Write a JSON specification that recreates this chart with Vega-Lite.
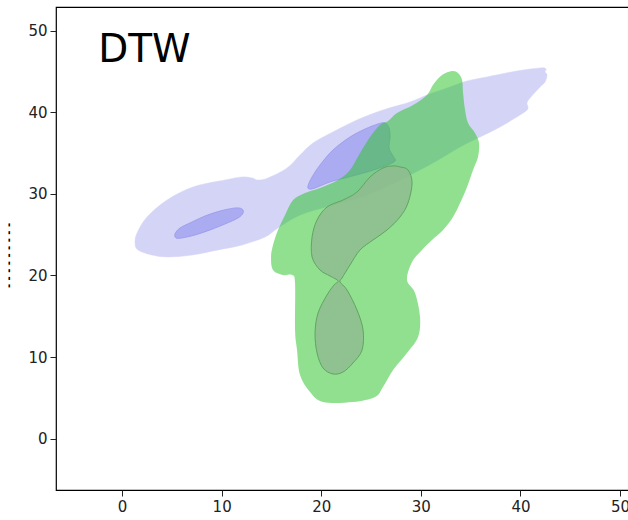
{
  "$schema": "https://vega.github.io/schema/vega-lite/v6.json",
  "width": 573,
  "height": 483,
  "autosize": {"type": "none"},
  "padding": {"left": 56, "top": 7, "right": 0, "bottom": 30},
  "background": "white",
  "config": {
    "view": {"stroke": "#000", "strokeWidth": 1.2},
    "axis": {
      "grid": false,
      "domain": false,
      "tickColor": "#222",
      "tickSize": 6,
      "tickWidth": 1,
      "labelColor": "#222",
      "labelFont": "DejaVu Sans",
      "labelFontSize": 15,
      "titleFont": "DejaVu Sans"
    }
  },
  "datasets": {
    "contours": [
      {"shape": "bo", "i": 1, "x": 1.31, "y": 23.98},
      {"shape": "bo", "i": 2, "x": 1.61, "y": 23.13},
      {"shape": "bo", "i": 3, "x": 3.01, "y": 22.51},
      {"shape": "bo", "i": 4, "x": 4.62, "y": 22.27},
      {"shape": "bo", "i": 5, "x": 7.03, "y": 22.51},
      {"shape": "bo", "i": 6, "x": 9.64, "y": 23.13},
      {"shape": "bo", "i": 7, "x": 12.05, "y": 23.74},
      {"shape": "bo", "i": 8, "x": 14.36, "y": 24.72},
      {"shape": "bo", "i": 9, "x": 15.66, "y": 25.82},
      {"shape": "bo", "i": 10, "x": 17.87, "y": 27.41},
      {"shape": "bo", "i": 11, "x": 21.18, "y": 28.64},
      {"shape": "bo", "i": 12, "x": 24.6, "y": 29.87},
      {"shape": "bo", "i": 13, "x": 27.91, "y": 31.7},
      {"shape": "bo", "i": 14, "x": 31.22, "y": 33.79},
      {"shape": "bo", "i": 15, "x": 33.94, "y": 35.75},
      {"shape": "bo", "i": 16, "x": 35.94, "y": 36.97},
      {"shape": "bo", "i": 17, "x": 37.95, "y": 38.2},
      {"shape": "bo", "i": 18, "x": 39.96, "y": 39.67},
      {"shape": "bo", "i": 19, "x": 40.66, "y": 40.28},
      {"shape": "bo", "i": 20, "x": 40.76, "y": 40.65},
      {"shape": "bo", "i": 21, "x": 40.66, "y": 41.14},
      {"shape": "bo", "i": 22, "x": 40.96, "y": 41.75},
      {"shape": "bo", "i": 23, "x": 41.97, "y": 43.1},
      {"shape": "bo", "i": 24, "x": 42.47, "y": 43.71},
      {"shape": "bo", "i": 25, "x": 42.67, "y": 44.57},
      {"shape": "bo", "i": 26, "x": 42.47, "y": 44.94},
      {"shape": "bo", "i": 27, "x": 42.57, "y": 45.31},
      {"shape": "bo", "i": 28, "x": 41.97, "y": 45.43},
      {"shape": "bo", "i": 29, "x": 39.66, "y": 45.06},
      {"shape": "bo", "i": 30, "x": 36.65, "y": 44.33},
      {"shape": "bo", "i": 31, "x": 34.64, "y": 43.84},
      {"shape": "bo", "i": 32, "x": 32.93, "y": 43.1},
      {"shape": "bo", "i": 33, "x": 30.62, "y": 42.12},
      {"shape": "bo", "i": 34, "x": 28.92, "y": 41.26},
      {"shape": "bo", "i": 35, "x": 26.2, "y": 40.28},
      {"shape": "bo", "i": 36, "x": 23.59, "y": 39.06},
      {"shape": "bo", "i": 37, "x": 21.18, "y": 37.59},
      {"shape": "bo", "i": 38, "x": 19.18, "y": 36.24},
      {"shape": "bo", "i": 39, "x": 17.87, "y": 34.77},
      {"shape": "bo", "i": 40, "x": 16.57, "y": 33.17},
      {"shape": "bo", "i": 41, "x": 14.66, "y": 31.95},
      {"shape": "bo", "i": 42, "x": 13.65, "y": 31.7},
      {"shape": "bo", "i": 43, "x": 13.05, "y": 31.95},
      {"shape": "bo", "i": 44, "x": 12.05, "y": 32.07},
      {"shape": "bo", "i": 45, "x": 10.34, "y": 31.7},
      {"shape": "bo", "i": 46, "x": 7.13, "y": 30.85},
      {"shape": "bo", "i": 47, "x": 4.52, "y": 29.25},
      {"shape": "bo", "i": 48, "x": 2.51, "y": 27.17},
      {"shape": "bo", "i": 49, "x": 1.51, "y": 25.21},

      {"shape": "bi1", "i": 1, "x": 5.32, "y": 25.09},
      {"shape": "bi1", "i": 2, "x": 5.82, "y": 25.82},
      {"shape": "bi1", "i": 3, "x": 7.03, "y": 26.56},
      {"shape": "bi1", "i": 4, "x": 8.33, "y": 27.29},
      {"shape": "bi1", "i": 5, "x": 9.84, "y": 27.9},
      {"shape": "bi1", "i": 6, "x": 11.35, "y": 28.27},
      {"shape": "bi1", "i": 7, "x": 12.05, "y": 28.15},
      {"shape": "bi1", "i": 8, "x": 12.15, "y": 27.66},
      {"shape": "bi1", "i": 9, "x": 11.65, "y": 27.05},
      {"shape": "bi1", "i": 10, "x": 10.34, "y": 26.31},
      {"shape": "bi1", "i": 11, "x": 8.84, "y": 25.58},
      {"shape": "bi1", "i": 12, "x": 7.33, "y": 24.96},
      {"shape": "bi1", "i": 13, "x": 6.02, "y": 24.6},
      {"shape": "bi1", "i": 14, "x": 5.42, "y": 24.6},

      {"shape": "bi2", "i": 1, "x": 18.67, "y": 30.97},
      {"shape": "bi2", "i": 2, "x": 19.08, "y": 32.07},
      {"shape": "bi2", "i": 3, "x": 19.88, "y": 33.54},
      {"shape": "bi2", "i": 4, "x": 21.18, "y": 35.38},
      {"shape": "bi2", "i": 5, "x": 22.89, "y": 36.97},
      {"shape": "bi2", "i": 6, "x": 24.4, "y": 37.95},
      {"shape": "bi2", "i": 7, "x": 25.7, "y": 38.57},
      {"shape": "bi2", "i": 8, "x": 26.41, "y": 38.69},
      {"shape": "bi2", "i": 9, "x": 26.81, "y": 38.08},
      {"shape": "bi2", "i": 10, "x": 26.91, "y": 36.97},
      {"shape": "bi2", "i": 11, "x": 26.81, "y": 35.63},
      {"shape": "bi2", "i": 12, "x": 27.21, "y": 34.64},
      {"shape": "bi2", "i": 13, "x": 27.41, "y": 34.03},
      {"shape": "bi2", "i": 14, "x": 26.41, "y": 33.42},
      {"shape": "bi2", "i": 15, "x": 24.6, "y": 32.68},
      {"shape": "bi2", "i": 16, "x": 22.39, "y": 31.95},
      {"shape": "bi2", "i": 17, "x": 20.88, "y": 31.46},
      {"shape": "bi2", "i": 18, "x": 19.38, "y": 30.72},
      {"shape": "bi2", "i": 19, "x": 18.78, "y": 30.6},

      {"shape": "go", "i": 1, "x": 33.13, "y": 45.06},
      {"shape": "go", "i": 2, "x": 33.73, "y": 44.82},
      {"shape": "go", "i": 3, "x": 34.14, "y": 43.96},
      {"shape": "go", "i": 4, "x": 34.24, "y": 42.36},
      {"shape": "go", "i": 5, "x": 34.44, "y": 40.28},
      {"shape": "go", "i": 6, "x": 34.74, "y": 38.69},
      {"shape": "go", "i": 7, "x": 35.44, "y": 37.46},
      {"shape": "go", "i": 8, "x": 35.84, "y": 36.24},
      {"shape": "go", "i": 9, "x": 35.74, "y": 34.52},
      {"shape": "go", "i": 10, "x": 35.24, "y": 32.93},
      {"shape": "go", "i": 11, "x": 34.64, "y": 30.85},
      {"shape": "go", "i": 12, "x": 33.94, "y": 28.88},
      {"shape": "go", "i": 13, "x": 33.23, "y": 27.17},
      {"shape": "go", "i": 14, "x": 32.23, "y": 25.58},
      {"shape": "go", "i": 15, "x": 31.12, "y": 24.35},
      {"shape": "go", "i": 16, "x": 30.12, "y": 23.13},
      {"shape": "go", "i": 17, "x": 29.12, "y": 21.65},
      {"shape": "go", "i": 18, "x": 28.61, "y": 19.45},
      {"shape": "go", "i": 19, "x": 29.42, "y": 17.86},
      {"shape": "go", "i": 20, "x": 29.92, "y": 14.91},
      {"shape": "go", "i": 21, "x": 29.72, "y": 12.46},
      {"shape": "go", "i": 22, "x": 28.61, "y": 10.5},
      {"shape": "go", "i": 23, "x": 27.21, "y": 8.42},
      {"shape": "go", "i": 24, "x": 26.2, "y": 6.34},
      {"shape": "go", "i": 25, "x": 25.4, "y": 5.11},
      {"shape": "go", "i": 26, "x": 23.19, "y": 4.5},
      {"shape": "go", "i": 27, "x": 20.18, "y": 4.5},
      {"shape": "go", "i": 28, "x": 18.88, "y": 5.72},
      {"shape": "go", "i": 29, "x": 17.87, "y": 7.81},
      {"shape": "go", "i": 30, "x": 17.57, "y": 10.87},
      {"shape": "go", "i": 31, "x": 17.37, "y": 13.32},
      {"shape": "go", "i": 32, "x": 17.37, "y": 19.08},
      {"shape": "go", "i": 33, "x": 17.07, "y": 20.06},
      {"shape": "go", "i": 34, "x": 16.16, "y": 20.06},
      {"shape": "go", "i": 35, "x": 15.16, "y": 20.67},
      {"shape": "go", "i": 36, "x": 14.96, "y": 22.27},
      {"shape": "go", "i": 37, "x": 15.16, "y": 23.74},
      {"shape": "go", "i": 38, "x": 15.66, "y": 25.58},
      {"shape": "go", "i": 39, "x": 16.37, "y": 27.41},
      {"shape": "go", "i": 40, "x": 17.17, "y": 29.25},
      {"shape": "go", "i": 41, "x": 18.37, "y": 30.11},
      {"shape": "go", "i": 42, "x": 19.88, "y": 30.72},
      {"shape": "go", "i": 43, "x": 21.69, "y": 31.7},
      {"shape": "go", "i": 44, "x": 22.89, "y": 32.93},
      {"shape": "go", "i": 45, "x": 23.9, "y": 35.01},
      {"shape": "go", "i": 46, "x": 24.9, "y": 36.97},
      {"shape": "go", "i": 47, "x": 25.9, "y": 38.44},
      {"shape": "go", "i": 48, "x": 26.71, "y": 38.93},
      {"shape": "go", "i": 49, "x": 27.61, "y": 39.91},
      {"shape": "go", "i": 50, "x": 29.22, "y": 40.89},
      {"shape": "go", "i": 51, "x": 30.62, "y": 42.12},
      {"shape": "go", "i": 52, "x": 31.22, "y": 43.35},
      {"shape": "go", "i": 53, "x": 32.13, "y": 44.57},

      {"shape": "gi", "i": 1, "x": 27.21, "y": 33.42},
      {"shape": "gi", "i": 2, "x": 27.91, "y": 33.3},
      {"shape": "gi", "i": 3, "x": 28.71, "y": 32.93},
      {"shape": "gi", "i": 4, "x": 29.12, "y": 31.34},
      {"shape": "gi", "i": 5, "x": 28.71, "y": 28.88},
      {"shape": "gi", "i": 6, "x": 27.91, "y": 27.17},
      {"shape": "gi", "i": 7, "x": 26.61, "y": 25.58},
      {"shape": "gi", "i": 8, "x": 25.2, "y": 24.35},
      {"shape": "gi", "i": 9, "x": 23.9, "y": 23.13},
      {"shape": "gi", "i": 10, "x": 22.89, "y": 21.29},
      {"shape": "gi", "i": 11, "x": 22.09, "y": 19.69},
      {"shape": "gi", "i": 12, "x": 21.89, "y": 19.2},
      {"shape": "gi", "i": 13, "x": 22.59, "y": 18.22},
      {"shape": "gi", "i": 14, "x": 23.59, "y": 15.77},
      {"shape": "gi", "i": 15, "x": 24.2, "y": 13.32},
      {"shape": "gi", "i": 16, "x": 24.1, "y": 10.87},
      {"shape": "gi", "i": 17, "x": 23.19, "y": 9.28},
      {"shape": "gi", "i": 18, "x": 22.19, "y": 8.17},
      {"shape": "gi", "i": 19, "x": 21.18, "y": 7.93},
      {"shape": "gi", "i": 20, "x": 20.18, "y": 8.66},
      {"shape": "gi", "i": 21, "x": 19.58, "y": 10.5},
      {"shape": "gi", "i": 22, "x": 19.38, "y": 12.95},
      {"shape": "gi", "i": 23, "x": 19.68, "y": 15.4},
      {"shape": "gi", "i": 24, "x": 20.58, "y": 17.61},
      {"shape": "gi", "i": 25, "x": 21.29, "y": 18.84},
      {"shape": "gi", "i": 26, "x": 21.69, "y": 19.33},
      {"shape": "gi", "i": 27, "x": 20.88, "y": 19.94},
      {"shape": "gi", "i": 28, "x": 19.88, "y": 20.67},
      {"shape": "gi", "i": 29, "x": 19.08, "y": 22.27},
      {"shape": "gi", "i": 30, "x": 19.08, "y": 24.72},
      {"shape": "gi", "i": 31, "x": 19.58, "y": 26.8},
      {"shape": "gi", "i": 32, "x": 20.58, "y": 28.39},
      {"shape": "gi", "i": 33, "x": 22.19, "y": 29.25},
      {"shape": "gi", "i": 34, "x": 23.59, "y": 30.23},
      {"shape": "gi", "i": 35, "x": 24.9, "y": 32.07},
      {"shape": "gi", "i": 36, "x": 26.2, "y": 33.17}
    ]
  },
  "encoding": {
    "x": {
      "field": "x", "type": "quantitative",
      "scale": {"domain": [-6.63, 50.9], "nice": false, "zero": false},
      "axis": {"values": [0, 10, 20, 30, 40, 50], "title": null, "labelPadding": 3}
    },
    "y": {
      "field": "y", "type": "quantitative",
      "scale": {"domain": [-6.29, 52.9], "nice": false, "zero": false},
      "axis": {
        "values": [0, 10, 20, 30, 40, 50],
        "title": "- - - - - - - - -",
        "titleFontSize": 10,
        "titleFontWeight": "bold",
        "titleColor": "#000",
        "titleX": -43,
        "titleY": 248,
        "labelPadding": 3
      }
    }
  },
  "layer": [
    {
      "data": {"name": "contours"},
      "transform": [{"filter": "datum.shape === 'bo'"}],
      "mark": {"type": "line", "interpolate": "cardinal-closed", "fill": "#d4d4f7", "stroke": "#d4d4f7", "strokeWidth": 0.5},
      "encoding": {"order": {"field": "i", "type": "quantitative"}}
    },
    {
      "data": {"name": "contours"},
      "transform": [{"filter": "datum.shape === 'bi1'"}],
      "mark": {"type": "line", "interpolate": "cardinal-closed", "fill": "#ababf2", "stroke": "#9898ea", "strokeWidth": 0.8},
      "encoding": {"order": {"field": "i", "type": "quantitative"}}
    },
    {
      "data": {"name": "contours"},
      "transform": [{"filter": "datum.shape === 'bi2'"}],
      "mark": {"type": "line", "interpolate": "cardinal-closed", "fill": "#ababf2", "stroke": "#9898ea", "strokeWidth": 0.8},
      "encoding": {"order": {"field": "i", "type": "quantitative"}}
    },
    {
      "data": {"name": "contours"},
      "transform": [{"filter": "datum.shape === 'go'"}],
      "mark": {"type": "line", "interpolate": "cardinal-closed", "fill": "#2ac32a", "fillOpacity": 0.52, "strokeWidth": 0},
      "encoding": {"order": {"field": "i", "type": "quantitative"}}
    },
    {
      "data": {"name": "contours"},
      "transform": [{"filter": "datum.shape === 'gi'"}],
      "mark": {"type": "line", "interpolate": "cardinal-closed", "fill": "#8fbc8f", "fillOpacity": 0.88, "stroke": "#5fa65f", "strokeWidth": 1},
      "encoding": {"order": {"field": "i", "type": "quantitative"}}
    },
    {
      "data": {"values": [{"label": "DTW", "px": -2.4, "py": 46.2}]},
      "mark": {"type": "text", "font": "DejaVu Sans", "fontSize": 39, "fill": "#000", "align": "left", "baseline": "alphabetic"},
      "encoding": {
        "x": {"field": "px", "type": "quantitative"},
        "y": {"field": "py", "type": "quantitative"},
        "text": {"field": "label", "type": "nominal"}
      }
    }
  ]
}
